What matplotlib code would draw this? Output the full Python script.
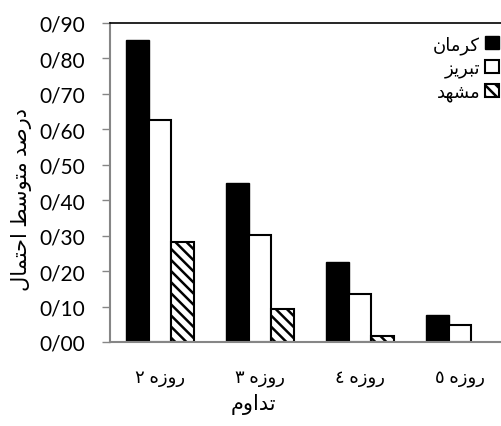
import matplotlib as mpl
mpl.use('Agg')
import matplotlib.pyplot as plt
import numpy as np

plt.rcParams['font.family'] = ['Lato', 'DejaVu Sans']
plt.rcParams['hatch.linewidth'] = 1.8

# Arabic presentation forms, written in logical order and reversed for display
ruzeh = '\uFEAD\uFEED\uFEAF\uFEE9'                      # روزه
kerman_lbl = '\uFB90\uFEAE\uFEE3\uFE8E\uFEE5'           # کرمان
tabriz_lbl = '\uFE97\uFE92\uFEAE\uFBFE\uFEB0'           # تبریز
mashhad_lbl = '\uFEE3\uFEB8\uFEEC\uFEAA'                # مشهد
tadavom = '\uFE97\uFEAA\uFE8D\uFEED\uFEE1'              # تداوم
ylabel = ('\uFEA9\uFEAD\uFEBB\uFEAA' + ' ' +            # درصد
          '\uFEE3\uFE98\uFEEE\uFEB3\uFEC2' + ' ' +      # متوسط
          '\uFE8D\uFEA3\uFE98\uFEE4\uFE8E\uFEDD')       # احتمال


def rtl(s):
    return s[::-1]


# data
days = ['\u0662', '\u0663', '\u0664', '\u0665']
kerman = [0.853, 0.449, 0.227, 0.075]
tabriz = [0.626, 0.303, 0.135, 0.048]
mashhad = [0.281, 0.093, 0.016, 0.0]

fig = plt.figure(figsize=(5.01, 4.27), dpi=100)
ax = fig.add_axes([110/501, (427-343)/427, 400/501, (343-24)/427])

x = np.arange(len(days))
w = 0.225
b1 = ax.bar(x - w, kerman, w, color='black', edgecolor='black', linewidth=1)
b2 = ax.bar(x, tabriz, w, color='white', edgecolor='black', linewidth=1.5)
b3 = ax.bar(x + w, mashhad, w, color='white', edgecolor='black', linewidth=1.5,
            hatch='\\\\\\')
for rect, v in zip(b3, mashhad):
    if v == 0:
        rect.set_visible(False)

ax.set_xlim(-0.5, 3.5)
ax.set_ylim(0, 0.9)
yt = np.arange(0, 0.91, 0.1)
ax.set_yticks(yt)
ax.set_yticklabels([f'{v:.2f}'.replace('.', '/') for v in yt], fontsize=15)
ax.set_xticks(x)
ax.set_xticklabels([d + ' ' + rtl(ruzeh) for d in days], fontsize=13)
ax.tick_params(axis='y', direction='out', length=6, width=1, color='#868686', pad=12)
ax.tick_params(axis='x', length=0, pad=21)

ax.spines['right'].set_visible(False)
ax.spines['top'].set_color('black')
ax.spines['top'].set_linewidth(1.2)
for s in ['left', 'bottom']:
    ax.spines[s].set_color('#868686')
    ax.spines[s].set_linewidth(1.5)

fig.text(253/501, 1 - 405/427, rtl(tadavom), ha='center', va='center', fontsize=15)
fig.text(22/501, 1 - 200/427, rtl(ylabel), ha='center', va='center',
         rotation=90, fontsize=15)

ax.legend([b1, b2, b3], [rtl(kerman_lbl), rtl(tabriz_lbl), rtl(mashhad_lbl)],
          loc='upper right', bbox_to_anchor=(499/501, 1 - 36/427),
          bbox_transform=fig.transFigure, frameon=False, markerfirst=False,
          handlelength=0.75, handleheight=0.75, handletextpad=0.3,
          labelspacing=0.35, borderaxespad=0, borderpad=0, fontsize=13)

fig.savefig('out.png', dpi=100)
